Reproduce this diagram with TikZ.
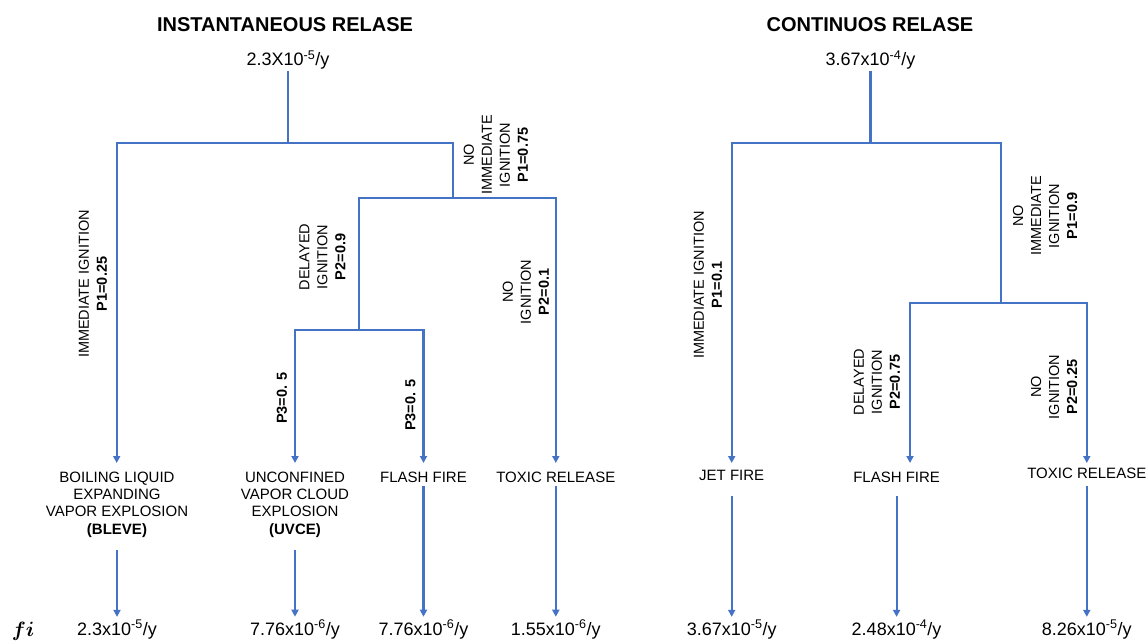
\documentclass[tikz,border=0pt]{standalone}
\usepackage{amsmath}
\usepackage{fontspec}
\setmainfont{Liberation Sans}
\usetikzlibrary{arrows.meta}
\definecolor{treeblue}{RGB}{68,114,196}

\begin{document}
\begin{tikzpicture}[x=1pt, y=-1pt,
    title/.style={font=\fontsize{20}{24}\selectfont\bfseries, inner sep=0pt},
    freq/.style={font=\fontsize{18}{21}\selectfont, inner sep=0pt, anchor=base},
    event/.style={font=\fontsize{15}{17.3}\selectfont, align=center, inner sep=0pt, anchor=north},
    prob/.style={font=\fontsize{14.5}{18}\selectfont, align=center, inner sep=0pt, rotate=90},
    branch/.style={color=treeblue, line width=2.2pt, line cap=rect},
    arr/.style={color=treeblue, line width=2.2pt, line cap=rect, -{Triangle[width=7pt,length=7pt]}}]

    \useasboundingbox (0,0) rectangle (1146,643);

    % instantaneous release
    \node (tI) [title] at (285,25) {INSTANTANEOUS RELASE};
    \node (rI) [freq] at (288,65.7) {2.3X10\textsuperscript{-5}/y};

    \coordinate (jI) at (288,143.3);
    \coordinate (aI) at (116.7,143.3);
    \coordinate (bI) at (452.7,143.3);
    \coordinate (bI2) at (452.7,197.7);
    \coordinate (cI) at (359.3,197.7);
    \coordinate (dI) at (555.8,197.7);
    \coordinate (cI2) at (359.3,330);
    \coordinate (eI) at (295,330);
    \coordinate (fI) at (423.5,330);

    \node (bleve) [event] at (117,471.7) {BOILING LIQUID\\EXPANDING\\VAPOR EXPLOSION\\\textbf{(BLEVE)}};
    \node (uvce) [event] at (295,471.7) {UNCONFINED\\VAPOR CLOUD\\EXPLOSION\\\textbf{(UVCE)}};
    \node (flashI) [event] at (423.5,471.7) {FLASH FIRE};
    \node (toxicI) [event] at (555.8,471.7) {TOXIC RELEASE};

    \node (vBleve) [freq] at (117,635) {2.3x10\textsuperscript{-5}/y};
    \node (vUvce) [freq] at (295,635) {7.76x10\textsuperscript{-6}/y};
    \node (vFlashI) [freq] at (423.5,635) {7.76x10\textsuperscript{-6}/y};
    \node (vToxicI) [freq] at (555.8,635) {1.55x10\textsuperscript{-6}/y};

    \node (pImI) [prob] at (93,284) {IMMEDIATE IGNITION\\\textbf{P1=0.25}};
    \node (pNoI) [prob] at (496,155) {NO\\IMMEDIATE\\IGNITION\\\textbf{P1=0.75}};
    \node (pDelI) [prob] at (322.5,257) {DELAYED\\IGNITION\\\textbf{P2=0.9}};
    \node (pNoIgI) [prob] at (526,292) {NO\\IGNITION\\\textbf{P2=0.1}};
    \node (pUvce) [prob] at (282,398) {\textbf{P3=0. 5}};
    \node (pFlashI) [prob] at (410.5,405) {\textbf{P3=0. 5}};

    \path[branch] (rI.south) edge[shorten <=2pt] (jI);
    \path[branch] (aI) edge (bI);
    \path[branch] (bI) edge (bI2);
    \path[branch] (cI) edge (dI);
    \path[branch] (cI) edge (cI2);
    \path[branch] (eI) edge (fI);

    \path[arr] (aI) edge[shorten >=8.7pt] (aI |- bleve.north);
    \path[arr] (eI) edge[shorten >=8.7pt] (eI |- uvce.north);
    \path[arr] (fI) edge[shorten >=8.7pt] (fI |- flashI.north);
    \path[arr] (dI) edge[shorten >=8.7pt] (dI |- toxicI.north);

    \path[arr] (bleve.south) edge[shorten <=13.5pt, shorten >=3pt] (vBleve.north);
    \path[arr] (uvce.south) edge[shorten <=13.5pt, shorten >=3pt] (vUvce.north);
    \path[arr] (flashI.south) edge[shorten <=4pt, shorten >=3pt] (vFlashI.north);
    \path[arr] (toxicI.south) edge[shorten <=4pt, shorten >=3pt] (vToxicI.north);

    % continuous release
    \node (tC) [title] at (870,25) {CONTINUOS RELASE};
    \node (rC) [freq] at (870.4,65.7) {3.67x10\textsuperscript{-4}/y};

    \coordinate (jC) at (870.4,142.7);
    \coordinate (aC) at (731.7,142.7);
    \coordinate (bC) at (1000.7,142.7);
    \coordinate (bC2) at (1000.7,303.3);
    \coordinate (cC) at (910,303.3);
    \coordinate (dC) at (1086.8,303.3);

    \node (jet) [event] at (731.7,470) {JET FIRE};
    \node (flashC) [event] at (896.6,471.7) {FLASH FIRE};
    \node (toxicC) [event] at (1086.8,468) {TOXIC RELEASE};

    \node (vJet) [freq] at (731.7,635) {3.67x10\textsuperscript{-5}/y};
    \node (vFlashC) [freq] at (896.6,635) {2.48x10\textsuperscript{-4}/y};
    \node (vToxicC) [freq] at (1086.8,635) {8.26x10\textsuperscript{-5}/y};

    \node (pImC) [prob] at (708,285) {IMMEDIATE IGNITION\\\textbf{P1=0.1}};
    \node (pNoC) [prob] at (1045,216) {NO\\IMMEDIATE\\IGNITION\\\textbf{P1=0.9}};
    \node (pDelC) [prob] at (877,382) {DELAYED\\IGNITION\\\textbf{P2=0.75}};
    \node (pNoIgC) [prob] at (1054,387) {NO\\IGNITION\\\textbf{P2=0.25}};

    \path[branch] (rC.south) edge[shorten <=2pt] (jC);
    \path[branch] (aC) edge (bC);
    \path[branch] (bC) edge (bC2);
    \path[branch] (cC) edge (dC);

    \path[arr] (aC) edge[shorten >=7pt] (aC |- jet.north);
    \path[arr] (cC) edge[shorten >=8.7pt] (cC |- flashC.north);
    \path[arr] (dC) edge[shorten >=5pt] (dC |- toxicC.north);

    \path[arr] (jet.south) edge[shorten <=16pt, shorten >=3pt] (vJet.north);
    \path[arr] (flashC.south) edge[shorten <=14pt, shorten >=3pt] (vFlashC.north);
    \path[arr] (toxicC.south) edge[shorten <=8pt, shorten >=3pt] (vToxicC.north);

    % frequency row label
    \node (fi) at (23,631) {\fontsize{20}{24}\selectfont$\boldsymbol{fi}$};

\end{tikzpicture}
\end{document}
